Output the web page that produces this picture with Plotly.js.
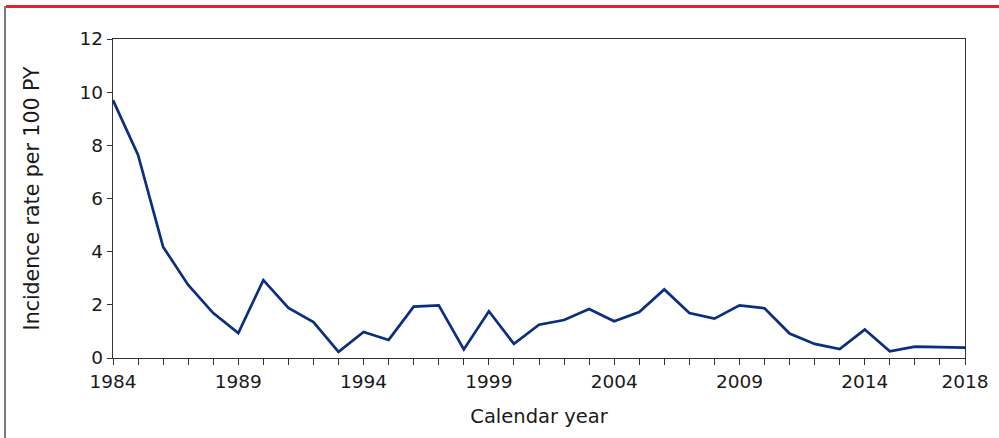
<!DOCTYPE html>
<html>
<head>
<meta charset="utf-8">
<script src="https://cdn.plot.ly/plotly-3.0.1.min.js"></script>
<style>
html,body{margin:0;padding:0;background:#fff;}
#wrap{position:relative;width:999px;height:438px;overflow:hidden;}
#chart{position:absolute;left:0;top:0;width:999px;height:438px;}
#redline{position:absolute;left:6px;top:5px;width:993px;height:3px;background:#e0262d;}
#greyline{position:absolute;left:4px;top:6px;width:2px;height:432px;background:#7a7a7a;}
</style>
</head>
<body>
<div id="wrap">
<div id="chart"></div>
<div id="redline"></div>
<div id="greyline"></div>
</div>
<script>
const years = [1984,1985,1986,1987,1988,1989,1990,1991,1992,1993,1994,1995,1996,1997,1998,1999,2000,2001,2002,2003,2004,2005,2006,2007,2008,2009,2010,2011,2012,2013,2014,2015,2016,2017,2018];
const incidence = [9.7,7.64,4.18,2.75,1.69,0.94,2.93,1.88,1.35,0.23,0.98,0.68,1.93,1.98,0.32,1.76,0.53,1.25,1.43,1.84,1.38,1.73,2.58,1.69,1.48,1.98,1.87,0.92,0.53,0.34,1.07,0.25,0.43,0.42,0.39];
const xTickVals = [1984,1989,1994,1999,2004,2009,2014,2018];
const yTickVals = [0,2,4,6,8,10,12];

const fam = '"DejaVu Sans", Verdana, sans-serif';
const tickFont = {family:fam, size:18.5, color:'#1a1a1a'};
const xTitleFont = {family:fam, size:19.5, color:'#1a1a1a'};
const yTitleFont = {family:fam, size:20.5, color:'#1a1a1a'};

Plotly.newPlot('chart', [{
  x: years, y: incidence, type:'scatter', mode:'lines',
  line:{color:'#0b2f7e', width:2.7}, hoverinfo:'x+y'
}], {
  width:999, height:438,
  margin:{l:113, r:34, t:39, b:80},
  paper_bgcolor:'#fff', plot_bgcolor:'#fff',
  showlegend:false,
  font: tickFont,
  xaxis:{
    range:[1984,2018], tickmode:'array', tickvals:xTickVals, ticktext:xTickVals.map(String),
    ticks:'outside', ticklen:6, tickcolor:'#333', tickwidth:1,
    minor:{tick0:1984, dtick:1, ticks:'outside', ticklen:6, tickcolor:'#333', tickwidth:1},
    showgrid:false, zeroline:false,
    showline:true, linecolor:'#333', linewidth:1.3, mirror:true,
    tickfont:tickFont,
    title:{text:'Calendar year', font:xTitleFont, standoff:18}
  },
  yaxis:{
    range:[0,12], tickmode:'array', tickvals:yTickVals,
    ticks:'outside', ticklen:5, tickcolor:'#333', tickwidth:1,
    showgrid:false, zeroline:false,
    showline:true, linecolor:'#333', linewidth:1.3, mirror:true,
    tickfont:tickFont,
    title:{text:'Incidence rate per 100 PY', font:yTitleFont, standoff:34}
  }
}, {displayModeBar:false, staticPlot:true});
</script>
</body>
</html>
